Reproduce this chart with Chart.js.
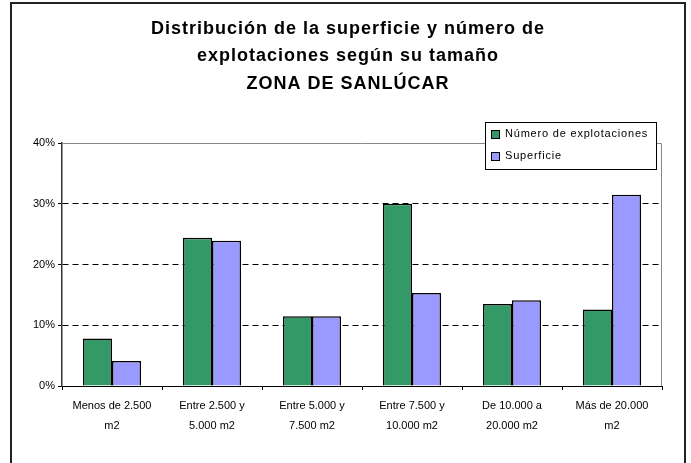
<!DOCTYPE html>
<html>
<head>
<meta charset="utf-8">
<script src="https://cdn.jsdelivr.net/npm/chart.js@4.4.1/dist/chart.umd.min.js"></script>
<style>
  body { margin: 0; background: #fff; }
</style>
</head>
<body>
<canvas id="myChart" width="691" height="463"></canvas>
<script>
const categories = [
  ['Menos de 2.500', 'm2'],
  ['Entre 2.500 y', '5.000 m2'],
  ['Entre 5.000 y', '7.500 m2'],
  ['Entre 7.500 y', '10.000 m2'],
  ['De 10.000 a', '20.000 m2'],
  ['Más de 20.000', 'm2']
];
const explotaciones = [7.8, 24.4, 11.5, 30.0, 13.5, 12.6];
const superficie = [4.1, 23.9, 11.5, 15.3, 14.1, 31.5];
const yTicks = [0, 10, 20, 30, 40];
const titleLines = [
  'Distribución de la superficie y número de',
  'explotaciones según su tamaño',
  'ZONA DE SANLÚCAR'
];

const fontFam = '"Liberation Sans", Arial, sans-serif';

// title, outer frame, plot border on top/right and boxed legend
const extras = {
  id: 'extras',
  afterDraw(chart) {
    const ctx = chart.ctx;
    const a = chart.chartArea;
    ctx.save();

    ctx.fillStyle = '#000';
    ctx.textAlign = 'center';
    ctx.textBaseline = 'middle';
    ctx.font = 'bold 18px ' + fontFam;
    ctx.letterSpacing = '1px';
    titleLines.forEach(function (t, i) {
      ctx.fillText(t, 348, 29 + i * 27.5);
    });
    ctx.letterSpacing = '0px';

    ctx.strokeStyle = '#222';
    ctx.lineWidth = 2;
    ctx.beginPath();
    ctx.moveTo(11, 470);
    ctx.lineTo(11, 3);
    ctx.lineTo(685, 3);
    ctx.lineTo(685, 470);
    ctx.stroke();

    ctx.strokeStyle = '#888';
    ctx.lineWidth = 1;
    ctx.beginPath();
    ctx.moveTo(a.left, a.top + 0.5);
    ctx.lineTo(a.right - 0.5, a.top + 0.5);
    ctx.lineTo(a.right - 0.5, a.bottom);
    ctx.stroke();

    // legend
    const lx = 485, ly = 122, lw = 171, lh = 47;
    ctx.fillStyle = '#fff';
    ctx.fillRect(lx, ly, lw, lh);
    ctx.strokeStyle = '#000';
    ctx.strokeRect(lx + 0.5, ly + 0.5, lw, lh);
    ctx.font = '11px ' + fontFam;
    ctx.textAlign = 'left';
    ctx.letterSpacing = '0.8px';
    chart.data.datasets.forEach(function (ds, i) {
      const cy = ly + 12 + i * 22;
      ctx.fillStyle = ds.backgroundColor;
      ctx.fillRect(491, cy - 4, 8, 8);
      ctx.strokeStyle = '#000';
      ctx.strokeRect(491.5, cy - 3.5, 8, 8);
      ctx.fillStyle = '#000';
      ctx.fillText(ds.label, 505, cy);
    });
    ctx.restore();
  }
};

new Chart(document.getElementById('myChart'), {
  type: 'bar',
  data: {
    labels: categories,
    datasets: [
      {
        label: 'Número de explotaciones',
        data: explotaciones,
        backgroundColor: '#339966',
        borderColor: '#000',
        borderWidth: 1.5,
        categoryPercentage: 0.58,
        barPercentage: 1.0
      },
      {
        label: 'Superficie',
        data: superficie,
        backgroundColor: '#9999FF',
        borderColor: '#000',
        borderWidth: 1.5,
        categoryPercentage: 0.58,
        barPercentage: 1.0
      }
    ]
  },
  options: {
    responsive: false,
    animation: false,
    layout: { padding: { left: 0, right: 29, top: 143, bottom: 0 } },
    plugins: {
      legend: { display: false },
      tooltip: { enabled: false },
      title: { display: false }
    },
    scales: {
      x: {
        afterFit(scale) { scale.height = 77; },
        grid: {
          offset: true,
          drawOnChartArea: false,
          drawTicks: true,
          tickLength: 4,
          tickColor: '#000'
        },
        border: { color: '#000', width: 1 },
        ticks: {
          color: '#000',
          padding: 6,
          maxRotation: 0,
          autoSkip: false,
          font: { family: fontFam, size: 11, lineHeight: 1.8 }
        }
      },
      y: {
        min: 0,
        max: 40,
        afterFit(scale) { scale.width = 62; },
        afterBuildTicks(scale) { scale.ticks = yTicks.map(v => ({ value: v })); },
        grid: {
          color: ctx => (ctx.tick && ctx.tick.value > 0 && ctx.tick.value < 40) ? '#000' : 'rgba(0,0,0,0)',
          tickColor: '#000',
          tickLength: 4,
          drawTicks: true
        },
        border: { color: '#333', width: 1.5, dash: [6, 4] },
        ticks: {
          color: '#000',
          padding: 3,
          font: { family: fontFam, size: 11 },
          callback: v => v + '%'
        }
      }
    }
  },
  plugins: [extras]
});
</script>
</body>
</html>
